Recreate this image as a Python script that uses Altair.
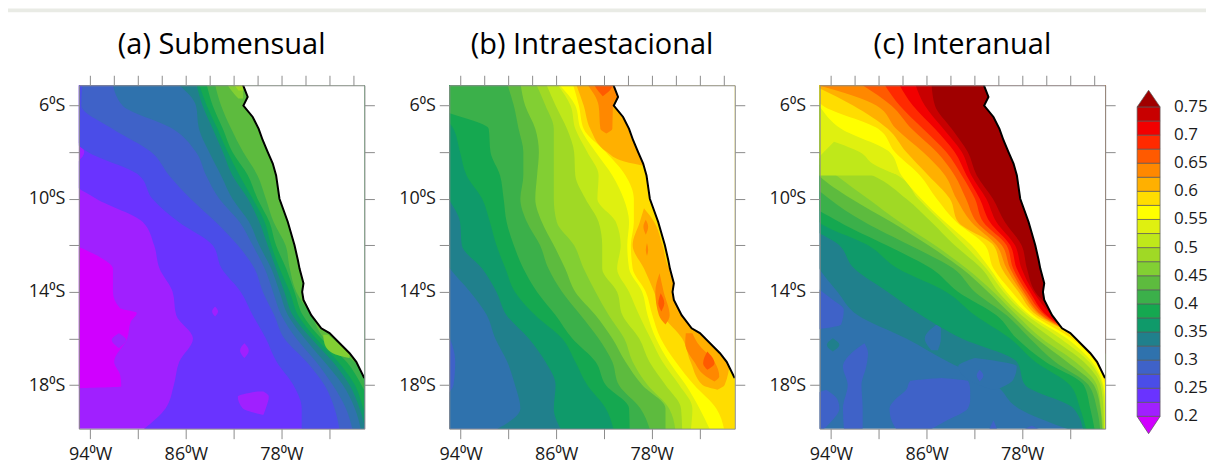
import altair as alt
import pandas as pd

# ---------- colour levels ----------
LEVELS = [0.2, 0.225, 0.25, 0.275, 0.3, 0.325, 0.35, 0.375, 0.4, 0.425, 0.45, 0.475,
          0.5, 0.525, 0.55, 0.575, 0.6, 0.625, 0.65, 0.675, 0.7, 0.725, 0.75]
COLORS = ["#d000ff", "#a020ff", "#6a33ff", "#4a4de8", "#3f62c8", "#2f72ad", "#20808c", "#0f9a6a",
          "#15a850", "#3bb04a", "#5dbb3e", "#82cf33", "#a0d925", "#bfe81a", "#dff010", "#ffff00",
          "#ffdd00", "#ffb000", "#ff8800", "#ff5a00", "#ff2a00", "#f20000", "#c80000", "#a00000"]
BAR_LABELS = [0.2, 0.25, 0.3, 0.35, 0.4, 0.45, 0.5, 0.55, 0.6, 0.65, 0.7, 0.75]
BAR_TEXT = ["0.2", "0.25", "0.3", "0.35", "0.4", "0.45", "0.5", "0.55", "0.6", "0.65", "0.7", "0.75"]
TITLES = ["(a) Submensual", "(b) Intraestacional", "(c) Interanual"]

# ---------- coast ----------
COAST_LAT = [-5, -5.63, -6, -6.49, -7, -7.49, -8, -8.49, -9, -10, -11, -12, -12.63, -13, -13.63, -14,
             -14.34, -15, -15.56, -15.77, -16.34, -16.63, -17, -17.7]
COAST_LON = [-81.3, -80.82, -81.18, -80.4, -79.9, -79.56, -79.14, -78.72, -78.44, -78.16, -77.46, -76.9,
             -76.62, -76.48, -76.15, -76.26, -76.15, -75.5, -74.66, -73.97, -72.85, -72.29, -71.73, -71.06]

# ---------- contour boundaries: longitude at which each level starts, per latitude row ----------
ROW_LATS = [-5, -6, -7, -8, -9, -10, -11, -12, -13, -14, -15, -16, -17, -18, -19, -20]
FAR_WEST = [-96] * 16
FAR_EAST = [-70] * 16


def row(level, west):
    return (level, ROW_LATS, west, FAR_EAST)


SUB_REGIONS = [
    row(0.2, FAR_WEST),
    (0.19, [-12.06, -12.49, -13, -14, -14.7, -14.9, -15.27, -16, -17, -17.56, -18.06, -18.13], [-96] * 12,
     [-95, -93.25, -92.1, -92.1, -91.5, -90.1, -90.6, -90.9, -92, -91.5, -91.4, -95]),
    (0.2, [-15.77, -16.06, -16.41], [-91.6, -92.2, -91.6], [-91.6, -91, -91.6]),
    row(0.225, [-96, -96, -96, -94.5, -96, -93.5, -89.6, -88.65, -88.2, -87.1, -86.8, -85.4, -86.55, -87, -87.7, -89.8]),
    (0.2, [-14.63, -14.84, -15.06], [-83.55, -83.8, -83.55], [-83.55, -83.3, -83.55]),
    (0.2, [-16.2, -16.51, -16.84], [-81.1, -81.46, -81.1], [-81.1, -80.73, -81.1]),
    (0.2, [-18.27, -18.49, -18.99, -19.27], [-80.0, -81.65, -81.25, -79.6], [-79.5, -79.05, -79.3, -79.5]),
    row(0.25, [-96, -96, -96, -94.2, -89.9, -88.8, -86.6, -83.75, -83, -81.4, -80.4, -79.3, -78.4, -77, -76.3, -76.3]),
    row(0.275, [-94.65, -94.75, -92.15, -88.9, -87.4, -85.6, -83.5, -81.65, -80.25, -79.55, -78.6, -77.75, -75.9, -74.4, -73.55, -73.1]),
    row(0.3, [-92.15, -91.3, -87.1, -85.15, -84.3, -83.2, -81.5, -80.4, -79.4, -78.7, -78, -76.75, -75.1, -73.7, -72.6, -72]),
    row(0.325, [-86.85, -85.15, -84.9, -84.05, -83.05, -82.1, -80.7, -79.85, -78.85, -78.15, -77.45, -76.05, -74.4, -72.85, -71.85, -71.3]),
    row(0.35, [-85.15, -84.6, -83.75, -82.9, -82.1, -80.8, -79.85, -79.15, -78.45, -77.75, -77.05, -75.5, -73.7, -72.3, -71.45, -70.9]),
    row(0.375, [-84.95, -84.25, -83.35, -82.5, -81.5, -80.4, -79.4, -78.85, -78.15, -77.3, -76.6, -75.1, -73.25, -71.85, -71.15, -70.5]),
    row(0.4, [-84.3, -83.75, -82.9, -82.1, -80.8, -80, -79, -78.45, -77.6, -76.9, -76.2, -74.65, -72.55, -71.3, -70.5, -70.5]),
    row(0.425, [-83.6, -83.05, -82.2, -81.2, -80, -79.3, -78.65, -77.65, -77.3, -76.75, -75.5, -74.4, -71.9, -70.5, -70.5, -70.5]),
    (0.45, [-5, -5.41, -5.7], [-82.65, -82.1, -81.6], [-81.2, -81.2, -81.2]),
    (0.475, [-5, -5.35], [-82.1, -81.6], [-81.2, -81.2]),
    (0.5, [-5, -5.17], [-81.75, -81.5], [-81.2, -81.2]),
    (0.45, [-15.84, -16.2, -16.63, -16.84], [-74.5, -74.4, -73.7, -72.3], [-74.1, -73.25, -72.3, -72.3]),
]

INTRA_REGIONS = [
    row(0.275, FAR_WEST),
    row(0.3, [-96] * 11 + [-94.9, -94.45, -94.6, -96, -96]),
    row(0.325, [-96] * 8 + [-94.9, -93.2, -91.8, -91.1, -90.1, -89.45, -89, -91.35]),
    row(0.35, [-96] * 5 + [-95, -94.05, -93.9, -92.2, -91, -90.15, -88.3, -86.9, -86.05, -86.2, -85.5]),
    row(0.375, [-96, -96, -94.6, -94.05, -93.5, -92.2, -91.55, -91, -90.25, -89.45, -87.75, -85.5, -84.4, -83.4, -81.85, -81.15]),
    row(0.4, [-96, -96, -91.65, -91.5, -90.7, -90.4, -90.15, -89.55, -88.75, -87.6, -86.05, -84.65, -82.7, -81.85, -79.9, -79.85]),
    row(0.425, [-90.15, -89.55, -89.15, -88.75, -88.75, -89, -88.45, -87.35, -86.65, -85.5, -83.95, -82.45, -81.3, -80.75, -78.95, -78.1]),
    row(0.45, [-89, -88.6, -87.75, -87.45, -87.6, -87.75, -87.2, -86.2, -85.25, -84.4, -82.7, -81.3, -80.2, -78.8, -76.85, -76.85]),
    row(0.475, [-87.75, -86.9, -86.2, -86.2, -86.2, -86.2, -85.95, -84.5, -83.7, -82.7, -81.6, -80.3, -79.6, -78.35, -76.55, -76]),
    row(0.5, [-86.9, -86.05, -85.1, -84.5, -84.4, -83.55, -82.45, -82.15, -82.15, -80.9, -80.45, -79.05, -78.2, -76.85, -75.55, -75.45]),
    row(0.525, [-86.05, -84.8, -84.4, -83.4, -82.45, -82.55, -81, -80.6, -80.9, -79.9, -79.05, -78.1, -77.1, -75.7, -74.6, -74.75]),
    row(0.55, [-85.95, -84.4, -83.95, -82.7, -81.3, -80.35, -79.9, -80.05, -79.9, -78.8, -78.35, -77.65, -76.55, -75.15, -74, -73.05]),
    row(0.575, [-84.65, -84.1, -83.7, -81.85, -80.2, -79.5, -79.5, -79.75, -79.6, -78.5, -77.95, -77.25, -76, -74.45, -72.6, -71.9]),
    (0.6, [-5, -6, -7, -8, -8.4, -8.6], [-84.4, -83.7, -83.15, -81.75, -80.3, -78.5], [-79, -79, -79, -78.9, -78.6, -78.5]),
    (0.6, [-10.41, -11, -12, -13, -14, -15, -16, -17, -18, -18.2],
     [-78.65, -79, -79.6, -78.65, -77.8, -77.1, -75.45, -74.75, -73.75, -72.5],
     [-78.65, -77.8, -77.1, -76.55, -75, -74, -72.6, -71.5, -71.9, -72.5]),
    (0.625, [-5, -6, -7, -7.2], [-83.55, -82.45, -82.3, -81.8], [-79, -81.25, -81.3, -81.8]),
    (0.625, [-10.9, -11.2, -11.55], [-78.5, -78.7, -78.5], [-78.5, -78.3, -78.5]),
    (0.625, [-11.9, -12.2, -12.45], [-78.4, -78.5, -78.4], [-78.4, -78.3, -78.4]),
    (0.625, [-13.2, -14, -15, -15.4], [-77.35, -77.7, -77.4, -76.85], [-77.35, -77, -76.5, -76.85]),
    (0.625, [-15.77, -16.2, -17, -17.63, -17.84], [-75.15, -75.2, -74.45, -73.45, -72.75], [-74.6, -74.15, -72.75, -72.35, -72.75]),
    (0.65, [-5, -5.4, -5.6], [-82.95, -82.45, -82.1], [-81.2, -81.6, -82.1]),
    (0.65, [-14.06, -14.49, -14.84], [-77.25, -77.45, -77.2], [-77.25, -76.95, -77.2]),
    (0.65, [-16.56, -17.06, -17.34], [-73.35, -73.7, -73.35], [-73.35, -72.75, -73.35]),
]

INTER_REGIONS = [
    row(0.3, FAR_WEST),
    (0.275, [-13.9, -14.34, -14.77, -15.4, -15.6], [-96] * 5, [-95, -93.85, -92.93, -93.15, -95]),
    (0.275, [-16.2, -16.63, -17.2, -18, -19, -20], [-91.2, -92.3, -93, -92.6, -93, -92.9], [-91.2, -90.9, -91.05, -91.45, -91.35, -91.35]),
    (0.275, [-18.2, -18.63, -19, -19.49, -20], [-94.4, -96, -96, -96, -96], [-94.4, -93.45, -93.3, -93.85, -94.85]),
    (0.275, [-17.7, -17.84, -18.2, -18.63, -19, -19.49, -20], [-84.75, -87.4, -87.7, -88.65, -89.1, -88.95, -88.4],
     [-84.75, -82.5, -82.35, -82.35, -82.55, -84.2, -86]),
    (0.275, [-19.51, -20], [-80.4, -80.85], [-80.4, -80]),
    (0.275, [-19.74, -20], [-77.2, -78.3], [-77.2, -76.1]),
    row(0.325, [-96] * 8 + [-95, -93.45, -91.75, -87.7, -84.2, -80.25, -78.3, -73.55]),
    (0.3, [-15.27, -16, -16.5], [-84.8, -86.15, -85.6], [-84.8, -84.8, -85.05]),
    (0.3, [-16.84, -17.2, -17.77, -18.2], [-81.95, -83.35, -82.5, -80.55], [-81.95, -78.45, -78.75, -80.15]),
    (0.275, [-17.34, -17.59, -17.84], [-81.55, -81.8, -81.55], [-81.55, -81.25, -81.55]),
    (0.325, [-15.99, -16.27, -16.56], [-93.85, -94.35, -93.85], [-93.85, -93.3, -93.85]),
    row(0.35, [-96] * 7 + [-93.3, -92.05, -89.25, -86.45, -83.05, -78.45, -77.75, -73.7, -72.85]),
    row(0.375, [-96] * 6 + [-95, -90.9, -88.4, -84.35, -81.95, -79, -76.9, -74, -73.15, -72.6]),
    row(0.4, [-96] * 6 + [-93.3, -89.35, -85.6, -83.35, -80.15, -78.45, -76.05, -72.85, -72.3, -71.9]),
    row(0.425, [-96] * 5 + [-94.15, -91.2, -87.4, -83.75, -81.95, -79.3, -77.35, -75.25, -72.45, -71.75, -71.45]),
    row(0.45, [-96] * 4 + [-95, -92.3, -88.95, -85.85, -83.05, -80.85, -78.85, -76.8, -74.25, -72, -71.45, -71.3]),
    row(0.475, [-96] * 4 + [-93.55, -90.9, -88.25, -85.3, -82.65, -80.4, -78.45, -76.35, -73.55, -71.75, -71.4, -71.2]),
    row(0.5, [-96] * 4 + [-90.5, -87.7, -85.6, -83.65, -81.4, -80, -78.05, -75.5, -72.85, -71.45, -71.2, -71.15]),
    row(0.525, [-96] * 4 + [-88.4, -86.7, -84.75, -82.8, -81, -79.55, -77.6, -74.8, -72.4, -71.3, -71.1, -71.1]),
    (0.5, [-7.56, -8, -8.5, -9], [-93.75, -94.6, -95.5, -96], [-93.75, -91.6, -90.5, -88.4]),
    row(0.55, [-96, -95, -93.15, -89.1, -88.1, -86.45, -84.45, -82.25, -80.7, -79.3, -77.35, -74.25, -72.15, -71.2, -71, -70.9]),
    row(0.575, [-96, -94.7, -90.05, -88.65, -86.55, -85.15, -83.5, -81.1, -80.4, -78.85, -77.05, -73.85, -71.9, -71, -70.5, -70.5]),
    row(0.6, [-96, -92.15, -89.25, -87.7, -85.85, -84.05, -83.35, -80.4, -79.7, -78.3, -76.75, -73, -70.5, -70.5, -70.5, -70.5]),
    row(0.625, [-96, -90.2, -88.55, -86.3, -84.45, -83.5, -82.25, -80.15, -79.3, -78.05, -76.5, -73, -70.5, -70.5, -70.5, -70.5]),
    row(0.65, [-91.75, -88.95, -87.25, -85.15, -83.65, -82.7, -81.8, -79.7, -79, -77.85, -76.35, -73, -70.5, -70.5, -70.5, -70.5]),
    row(0.675, [-89.65, -88.25, -86.3, -84.35, -83.05, -81.95, -81.25, -79.3, -78.75, -77.6, -76.1, -73, -70.5, -70.5, -70.5, -70.5]),
    row(0.7, [-88.4, -87.15, -85.3, -83.65, -82.65, -81.55, -80.7, -79, -78.45, -77.35, -75.95, -73, -70.5, -70.5, -70.5, -70.5]),
    row(0.725, [-87, -86.15, -84.6, -83.05, -82.25, -81, -80.15, -78.6, -78.05, -77.05, -75.5, -73, -70.5, -70.5, -70.5, -70.5]),
    row(0.75, [-85.6, -85.3, -83.9, -82.55, -81.8, -80.45, -79.45, -78.05, -77.6, -76.9, -74.95, -73, -70.5, -70.5, -70.5, -70.5]),
]

# ---------- shared pieces ----------
FONT = "Open Sans"
GREY = "#8c8c8c"
X_SCALE = alt.Scale(domain=[-94.95, -71.05], nice=False, zero=False)
Y_SCALE = alt.Scale(domain=[-19.87, -5.13], nice=False, zero=False)
X_TICKS = [-94, -92, -90, -88, -86, -84, -82, -80, -78, -76, -74, -72]
Y_TICKS = [-6, -8, -10, -12, -14, -16, -18]
COLOR_SCALE = alt.Scale(type="threshold", domain=LEVELS, range=COLORS)


def axis(orient, values, expr=None):
    opts = dict(orient=orient, values=values, title=None, tickSize=10, tickColor=GREY, tickWidth=1,
                domain=True, domainColor=GREY, domainWidth=1, grid=False, zindex=1)
    if expr:
        opts.update(labelExpr=expr, labelFont=FONT, labelFontSize=18, labelColor="#1a1a1a",
                    labelOverlap=False, labelFlush=False, labelPadding=7 if orient == "bottom" else 4)
        if orient == "left":
            opts.update(minExtent=71, maxExtent=71)
    else:
        opts.update(labels=False)
    return alt.Axis(**opts)


X_EXPR = "(datum.value + 94) % 8 == 0 ? abs(datum.value) + '\u2070W' : ''"
Y_EXPR = "(datum.value + 6) % 4 == 0 ? abs(datum.value) + '\u2070S' : ''"


def panel(regions, title):
    rows = []
    for i, (level, lats, west, east) in enumerate(regions):
        for la, w, e in zip(lats, west, east):
            rows.append({"region": i, "level": level, "lat": la, "west": w, "east": e})
    fill = alt.Chart(pd.DataFrame(rows)).mark_area(interpolate="monotone", orient="horizontal", clip=True).encode(
        y=alt.Y("lat:Q", scale=Y_SCALE, axis=axis("left", Y_TICKS, Y_EXPR)),
        x=alt.X("west:Q", scale=X_SCALE, stack=None, axis=axis("bottom", X_TICKS, X_EXPR)),
        x2="east:Q",
        color=alt.Color("level:Q", scale=COLOR_SCALE, legend=None),
        detail="region:N",
    )
    coast = pd.DataFrame({"lat": COAST_LAT, "lon": COAST_LON, "east": [-70] * len(COAST_LAT),
                          "i": range(len(COAST_LAT))})
    land = alt.Chart(coast).mark_area(orient="horizontal", clip=True, color="white").encode(
        y=alt.Y("lat:Q", scale=Y_SCALE), x=alt.X("lon:Q", scale=X_SCALE, stack=None), x2="east:Q")
    line = alt.Chart(coast).mark_line(color="black", strokeWidth=2, clip=True).encode(
        y=alt.Y("lat:Q", scale=Y_SCALE), x=alt.X("lon:Q", scale=X_SCALE), order="i:Q")
    inner = alt.layer(fill, land, line)
    frame = alt.Chart(pd.DataFrame({"lat": [-10], "lon": [-80]})).mark_point(opacity=0).encode(
        y=alt.Y("lat:Q", scale=Y_SCALE, axis=axis("right", Y_TICKS)),
        x=alt.X("lon:Q", scale=X_SCALE, axis=axis("top", X_TICKS)),
    )
    return alt.layer(inner, frame).resolve_scale(x="independent", y="independent").properties(
        width=286, height=344,
        title=alt.TitleParams(title, font=FONT, fontSize=29, fontWeight="normal", color="black",
                              anchor="middle", offset=15),
    )


# ---------- colour bar (sits 53 px left of the regular column slot) ----------
bar_df = pd.DataFrame({"low": LEVELS[:-1], "high": LEVELS[1:]})
BAR_Y = alt.Scale(domain=[0.1782, 0.7885], nice=False, zero=False)
BAR_X = alt.Scale(domain=[0, 1], nice=False, range=[-53, -30])
bar_rect = alt.Chart(bar_df).mark_rect(stroke="#5a5a5a", strokeWidth=0.7).encode(
    x=alt.value(-53), x2=alt.value(-30),
    y=alt.Y("low:Q", scale=BAR_Y, axis=None),
    y2="high:Q",
    color=alt.Color("low:Q", scale=COLOR_SCALE, legend=None),
)
tips = pd.DataFrame({"t": ["top"] * 3 + ["bottom"] * 3, "level": [0.75] * 3 + [0.19] * 3,
                     "x": [0, 0.5, 1] * 2, "y": [0.75, 0.7796, 0.75, 0.2, 0.1693, 0.2],
                     "y2": [0.75] * 3 + [0.2] * 3})
bar_tips = alt.Chart(tips).mark_area(orient="vertical", stroke="#5a5a5a", strokeWidth=0.7).encode(
    x=alt.X("x:Q", scale=BAR_X, axis=None),
    y=alt.Y("y:Q", scale=BAR_Y, stack=None, axis=None),
    y2="y2:Q",
    color=alt.Color("level:Q", scale=COLOR_SCALE, legend=None),
    detail="t:N",
)
bar_text = alt.Chart(pd.DataFrame({"v": BAR_LABELS, "s": BAR_TEXT})).mark_text(
    align="left", baseline="middle", font=FONT, fontSize=17, color="#1a1a1a"
).encode(x=alt.value(-16), y=alt.Y("v:Q", scale=BAR_Y, axis=None), text="s:N")
colorbar = alt.layer(bar_rect, bar_tips, bar_text).properties(width=1, height=344)

body = alt.hconcat(panel(SUB_REGIONS, TITLES[0]), panel(INTRA_REGIONS, TITLES[1]),
                   panel(INTER_REGIONS, TITLES[2]), colorbar, spacing=85, bounds="flush")

strip = alt.Chart(pd.DataFrame({"a": [0]})).mark_rect(color="#e9ebe5").encode(
    x=alt.value(-71), x2=alt.value(1129), y=alt.value(0), y2=alt.value(4)
).properties(width=1129, height=4)

chart = alt.vconcat(strip, body, spacing=73, bounds="flush").properties(padding=0).configure_view(stroke=None)

chart.save("out.html", embed_options={"renderer": "svg", "actions": False})
